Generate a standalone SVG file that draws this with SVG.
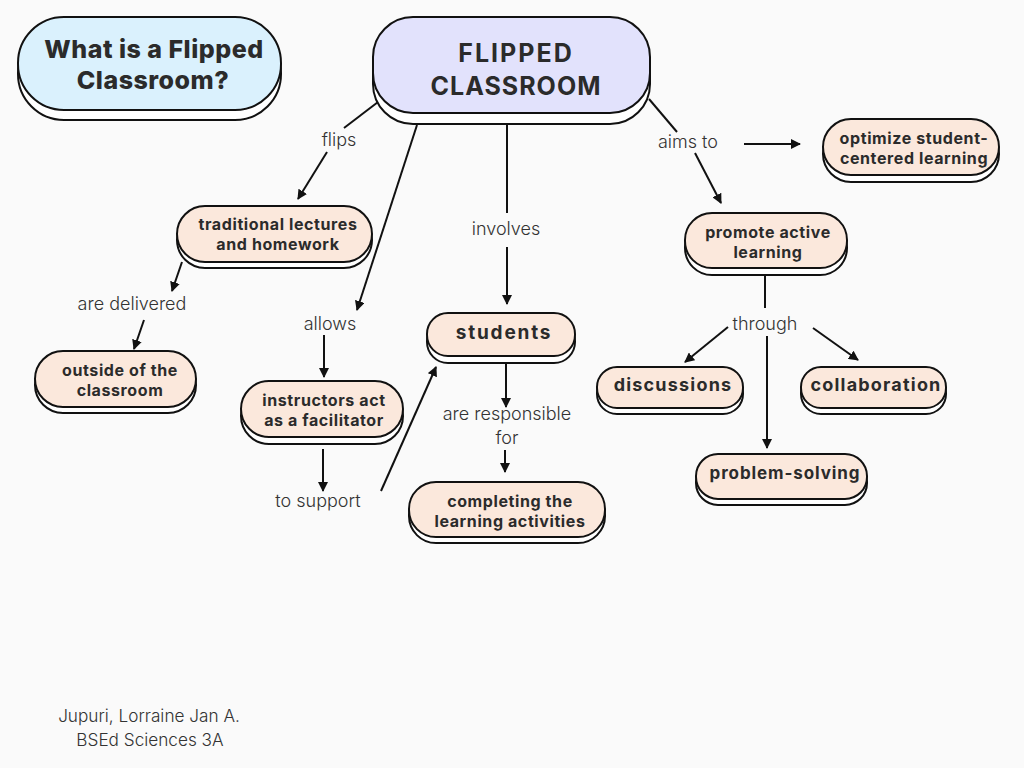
<svg xmlns="http://www.w3.org/2000/svg" width="1024" height="768" viewBox="0 0 1024 768">
<defs>
<marker id="ah" viewBox="0 0 10 10" refX="9" refY="5" markerWidth="5" markerHeight="5" orient="auto-start-reverse" markerUnits="strokeWidth">
<path d="M0,0 L10,5 L0,10 z" fill="#111"/>
</marker>
<style>
.sh{fill:#fff;stroke:#111;stroke-width:2}
.nd{fill:#fbe8dc;stroke:#111;stroke-width:2}
.t{font-family:Inter,"Liberation Sans",sans-serif;font-weight:700;font-size:16px;letter-spacing:0.6px;fill:#2b2b2b;text-anchor:middle}
.lb{font-family:Inter,"Liberation Sans",sans-serif;font-weight:300;font-size:18px;fill:#333;text-anchor:middle}
.c{stroke:#111;stroke-width:2;fill:none}
.a{stroke:#111;stroke-width:2;fill:none;marker-end:url(#ah)}
</style>
</defs>
<rect width="1024" height="768" fill="#fafafa"/>

<g id="connectors">
<line class="c" x1="378" y1="102" x2="344" y2="128"/>
<line class="a" x1="327" y1="152" x2="298" y2="199"/>
<line class="a" x1="417" y1="125" x2="357" y2="310"/>
<line class="a" x1="182" y1="262" x2="172" y2="291"/>
<line class="a" x1="144" y1="320" x2="134" y2="349"/>
<line class="a" x1="324" y1="335" x2="324" y2="377"/>
<line class="a" x1="323" y1="449" x2="323" y2="491"/>
<line class="a" x1="381" y1="491" x2="436" y2="367"/>
<line class="c" x1="507" y1="125" x2="507" y2="213"/>
<line class="a" x1="507" y1="247" x2="507" y2="304"/>
<line class="a" x1="506" y1="361" x2="506" y2="407"/>
<line class="a" x1="505" y1="450" x2="505" y2="472"/>
<line class="c" x1="649" y1="99" x2="677" y2="132"/>
<line class="a" x1="744" y1="144" x2="800" y2="144"/>
<line class="a" x1="695" y1="153" x2="721" y2="203"/>
<line class="c" x1="765" y1="275" x2="765" y2="308"/>
<line class="a" x1="728" y1="327" x2="685" y2="362"/>
<line class="a" x1="813" y1="328" x2="858" y2="360"/>
<line class="a" x1="767" y1="336" x2="767" y2="448"/>
<text class="lb" x="339" y="146">flips</text>
<text class="lb" x="132" y="310">are delivered</text>
<text class="lb" x="330" y="330">allows</text>
<text class="lb" x="318" y="507">to support</text>
<text class="lb" x="506" y="235">involves</text>
<text class="lb" x="507" y="420">are responsible</text>
<text class="lb" x="507" y="444">for</text>
<text class="lb" x="688" y="148">aims to</text>
<text class="lb" x="765" y="330">through</text>
</g>

<g id="what-is">
<rect class="sh" x="18" y="27" width="263" height="93" rx="46"/>
<rect x="18" y="17" width="263" height="93" rx="46" fill="#daf1fd" stroke="#111" stroke-width="2"/>
<text font-family="Inter,'Liberation Sans',sans-serif" font-weight="800" font-size="25" letter-spacing="0.5" fill="#2b2b2b" text-anchor="middle"><tspan x="154" y="58">What is a Flipped</tspan><tspan x="153" y="89">Classroom?</tspan></text>
</g>

<g id="flipped-classroom">
<rect class="sh" x="373" y="28" width="277" height="96" rx="40"/>
<rect x="373" y="17" width="277" height="96" rx="40" fill="#e2e2fc" stroke="#111" stroke-width="2"/>
<text font-family="Inter,'Liberation Sans',sans-serif" font-weight="700" font-size="25" letter-spacing="1" fill="#2b2b2b" text-anchor="middle"><tspan x="516" y="62" letter-spacing="2">FLIPPED</tspan><tspan x="516" y="95">CLASSROOM</tspan></text>
</g>

<g id="traditional">
<rect class="sh" x="177" y="212" width="195" height="56" rx="28"/>
<rect class="nd" x="177" y="206" width="195" height="56" rx="28"/>
<text class="t"><tspan x="278" y="230">traditional lectures</tspan><tspan x="278" y="250">and homework</tspan></text>
</g>

<g id="outside">
<rect class="sh" x="35" y="357" width="161" height="56" rx="28"/>
<rect class="nd" x="35" y="351" width="161" height="56" rx="28"/>
<text class="t"><tspan x="120" y="376">outside of the</tspan><tspan x="120" y="396">classroom</tspan></text>
</g>

<g id="instructors">
<rect class="sh" x="241" y="388" width="162" height="56" rx="28"/>
<rect class="nd" x="241" y="381" width="162" height="56" rx="28"/>
<text class="t"><tspan x="324" y="406">instructors act</tspan><tspan x="324" y="426">as a facilitator</tspan></text>
</g>

<g id="students">
<rect class="sh" x="427" y="320" width="148" height="43" rx="21"/>
<rect class="nd" x="427" y="313" width="148" height="43" rx="21"/>
<text class="t" x="504" y="339" style="font-size:19px;letter-spacing:1.8px">students</text>
</g>

<g id="completing">
<rect class="sh" x="409" y="488" width="196" height="55" rx="27"/>
<rect class="nd" x="409" y="482" width="196" height="55" rx="27"/>
<text class="t"><tspan x="510" y="507">completing the</tspan><tspan x="510" y="527">learning activities</tspan></text>
</g>

<g id="optimize">
<rect class="sh" x="823" y="126" width="176" height="56" rx="28"/>
<rect class="nd" x="823" y="119" width="176" height="56" rx="28"/>
<text class="t"><tspan x="914" y="144">optimize student-</tspan><tspan x="914" y="164">centered learning</tspan></text>
</g>

<g id="promote">
<rect class="sh" x="685" y="220" width="162" height="55" rx="27"/>
<rect class="nd" x="685" y="213" width="162" height="55" rx="27"/>
<text class="t"><tspan x="768" y="238">promote active</tspan><tspan x="768" y="258">learning</tspan></text>
</g>

<g id="discussions">
<rect class="sh" x="597" y="373" width="146" height="41" rx="20"/>
<rect class="nd" x="597" y="367" width="146" height="41" rx="20"/>
<text class="t" x="673" y="391" style="font-size:18px;letter-spacing:1.2px">discussions</text>
</g>

<g id="collaboration">
<rect class="sh" x="801" y="373" width="145" height="41" rx="20"/>
<rect class="nd" x="801" y="367" width="145" height="41" rx="20"/>
<text class="t" x="876" y="391" style="font-size:18px;letter-spacing:1.2px">collaboration</text>
</g>

<g id="problem-solving">
<rect class="sh" x="696" y="460" width="171" height="45" rx="22"/>
<rect class="nd" x="696" y="454" width="171" height="45" rx="22"/>
<text class="t" x="785" y="479" style="font-size:17px;letter-spacing:0.9px">problem-solving</text>
</g>

<g id="author">
<text class="lb" style="font-size:17.2px"><tspan x="149" y="722">Jupuri, Lorraine Jan A.</tspan><tspan x="150" y="746">BSEd Sciences 3A</tspan></text>
</g>
</svg>
